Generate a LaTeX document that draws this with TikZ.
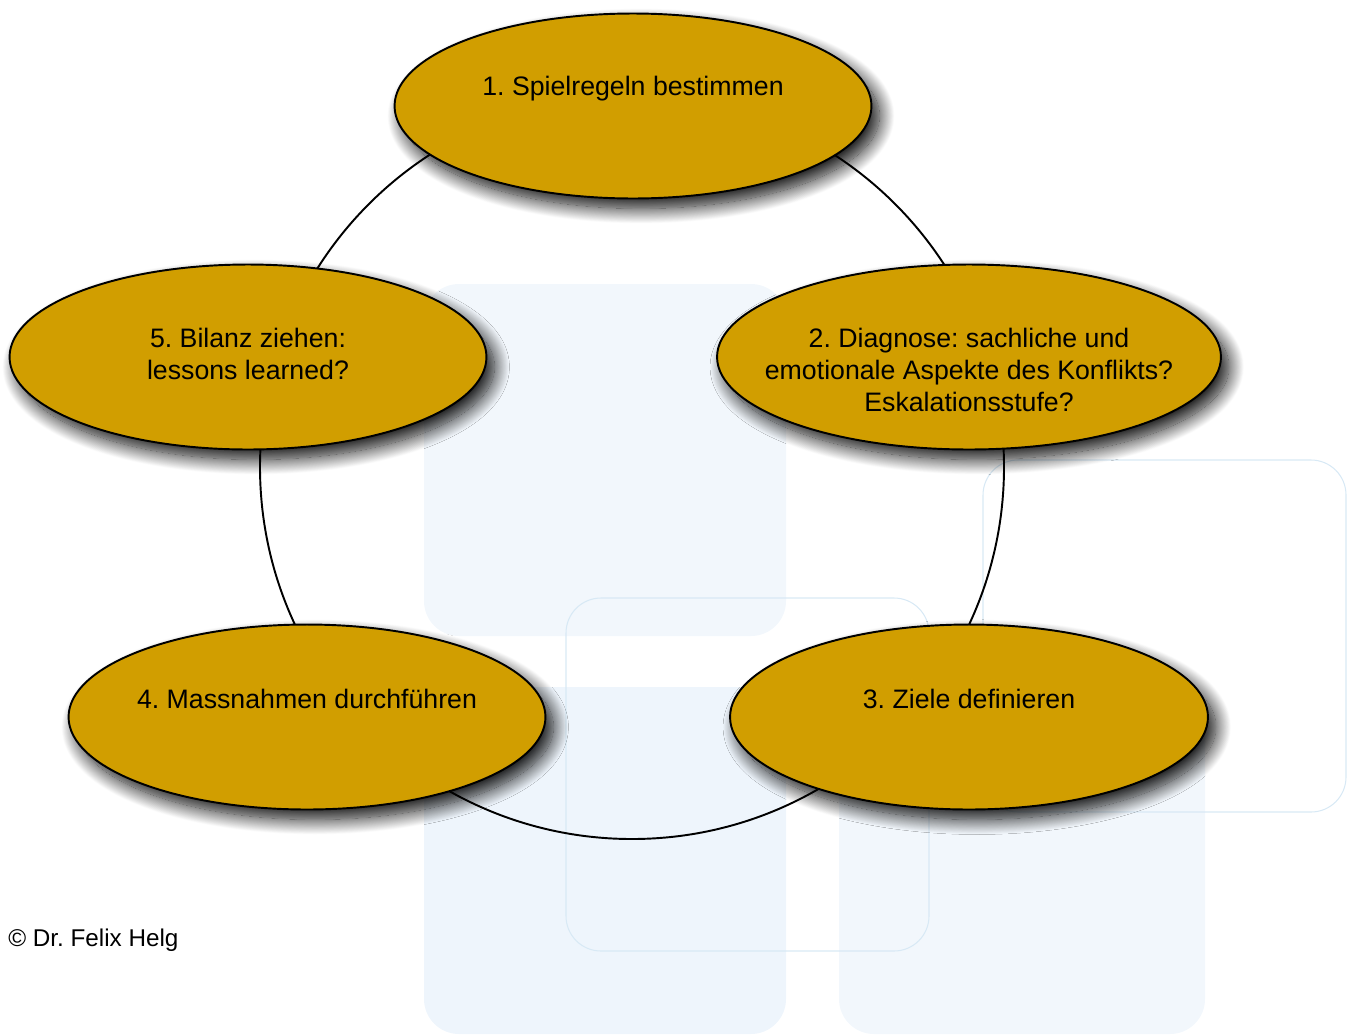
\documentclass[tikz,border=0pt]{standalone}
\usepackage{fontspec}
\setmainfont{Liberation Sans}
\usetikzlibrary{shapes.geometric,shadows.blur}
\definecolor{gold}{RGB}{209,158,0}
\definecolor{bgfill}{RGB}{242,247,252}
\definecolor{bgfillb}{RGB}{238,245,252}
\definecolor{bgline}{RGB}{216,233,245}
\frenchspacing
\begin{document}
\begin{tikzpicture}[x=0.02cm,y=-0.02cm,
  bgbox/.style={fill=bgfill, rounded corners=0.7cm},
  bgframe/.style={draw=bgline, line width=0.6pt, rounded corners=0.7cm},
  stage/.style={ellipse, draw=black, line width=1.1pt, fill=gold, inner sep=0pt,
    minimum height=3.7cm,
    blur shadow={shadow xshift=0.16cm, shadow yshift=-0.2cm, shadow blur radius=0.3cm, shadow blur steps=24, shadow opacity=95}},
  stagetext/.style={font=\fontsize{15.2pt}{18.1pt}\selectfont, align=center, inner sep=0pt},
  ringline/.style={draw=black, line width=1.1pt}]
\useasboundingbox (0,0) rectangle (1351,1035);
% background panels
\path[bgbox] (424,284) rectangle (786,636);
\path[bgbox, fill=bgfillb] (424,687) rectangle (786,1034);
\path[bgbox] (839,687) rectangle (1205,1034);
\draw[bgframe] (566,598) rectangle (929,951);
\draw[bgframe] (983,460) rectangle (1346,812);
% ring connecting the stages
\coordinate (hub) at (632,467);
\draw[ringline] (hub) circle [radius=372];
% stages
\node[stage, minimum width=9.54cm] (s1) at (633,106) {};
\node[stage, minimum width=10.08cm] (s2) at (969,357) {};
\node[stage, minimum width=9.56cm] (s3) at (969,717) {};
\node[stage, minimum width=9.54cm] (s4) at (307,717) {};
\node[stage, minimum width=9.54cm] (s5) at (248,357) {};
% texts
\node[stagetext] (t1) at (633,89) {1. Spielregeln bestimmen};
\node[stagetext] (t2) at (969,370) {2. Diagnose: sachliche und\\emotionale Aspekte des Konflikts?\\Eskalationsstufe?};
\node[stagetext] (t3) at (969,699) {3. Ziele definieren};
\node[stagetext] (t4) at (307,699) {4. Massnahmen durchführen};
\node[stagetext] (t5) at (248,354) {5. Bilanz ziehen:\\lessons learned?};
\node[font=\fontsize{13.8pt}{16pt}\selectfont, anchor=west, inner sep=0pt] (copy) at (8,940) {© Dr. Felix Helg};
\end{tikzpicture}
\end{document}
